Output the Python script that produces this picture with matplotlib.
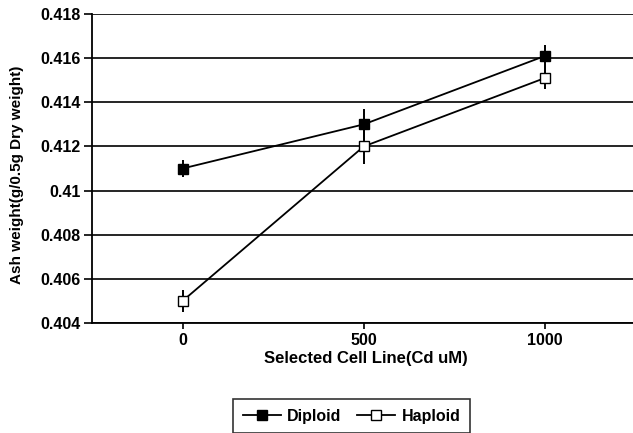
import matplotlib
matplotlib.use("Agg")
import matplotlib.pyplot as plt
from matplotlib.lines import Line2D

categories = ["0", "500", "1000"]
diploid = [0.4110, 0.4130, 0.4161]
diploid_err = [0.0004, 0.0007, 0.0005]
haploid = [0.4050, 0.4120, 0.4151]
haploid_err = [0.0005, 0.0008, 0.0005]
yticks = [0.404, 0.406, 0.408, 0.41, 0.412, 0.414, 0.416, 0.418]
ytick_labels = ["0.404", "0.406", "0.408", "0.41", "0.412", "0.414", "0.416", "0.418"]

plt.rcParams['font.family'] = ['Liberation Sans', 'DejaVu Sans']

fig = plt.figure(figsize=(6.33, 4.33), dpi=100)
ax = fig.add_axes([92/633, 1-323/433, 1-92/633, (323-14)/433])
x = list(range(len(categories)))

ax.errorbar(x, diploid, yerr=diploid_err, color='black', lw=1.3, marker='s',
            ms=6.5, mfc='black', mec='black', capsize=0, elinewidth=1.4, label='Diploid')
ax.errorbar(x, haploid, yerr=haploid_err, color='black', lw=1.3, marker='s',
            ms=6.5, mfc='white', mec='black', capsize=0, elinewidth=1.4, label='Haploid')

ax.set_xlim(-0.5, 2 + (633-545)/181)
ax.set_ylim(0.404, 0.418)
ax.set_yticks(yticks)
ax.set_yticklabels(ytick_labels, fontsize=11.5, fontweight='bold')
ax.set_xticks(x)
ax.set_xticklabels(categories, fontsize=11.5, fontweight='bold')
ax.yaxis.grid(True, color='black', lw=1.2)
ax.set_axisbelow(True)
for s in ['top', 'right']:
    ax.spines[s].set_visible(False)
ax.spines['left'].set_linewidth(1.3)
ax.spines['bottom'].set_linewidth(1.3)
ax.tick_params(axis='y', length=6, width=1.2, pad=2)
ax.tick_params(axis='x', length=4, width=1.2, pad=3)

fig.text(17/633, 1-175/433, "Ash weight(g/0.5g Dry weight)", ha='center', va='center',
         rotation=90, fontsize=11, fontweight='bold')
fig.text(366/633, 1-358/433, "Selected Cell Line(Cd uM)", ha='center', va='center',
         fontsize=12, fontweight='bold')

handles = [
    Line2D([], [], color='black', lw=1.3, marker='s', ms=6.5, mfc='black', mec='black'),
    Line2D([], [], color='black', lw=1.3, marker='s', ms=6.5, mfc='white', mec='black'),
]
leg = fig.legend(handles, ['Diploid', 'Haploid'], loc='upper left',
                 bbox_to_anchor=(233/633, 1-399/433), ncol=2,
                 frameon=True, fancybox=False, edgecolor='black',
                 prop={'weight': 'bold', 'size': 11.5}, handlelength=2.4,
                 columnspacing=0.95, handletextpad=0.4, borderpad=0.6, borderaxespad=0)
leg.get_frame().set_linewidth(1.2)

fig.savefig("out.png", dpi=100)
